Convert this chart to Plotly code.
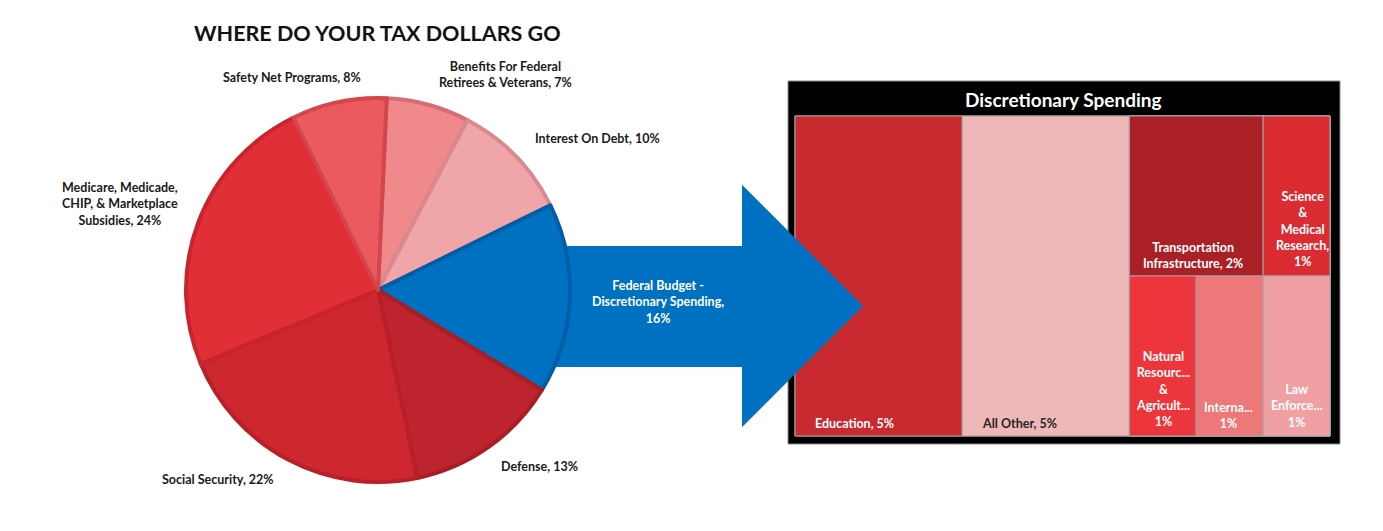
import plotly.graph_objects as go

W, H = 1383, 531

# ---------------- data ----------------
pie_labels = ["Benefits For Federal Retirees & Veterans", "Interest On Debt",
              "Federal Budget - Discretionary Spending", "Defense", "Social Security",
              "Medicare, Medicade, CHIP, & Marketplace Subsidies", "Safety Net Programs"]
pie_values = [7, 10, 16, 13, 22, 24, 8]
pie_label_fmt = ["Benefits For Federal<br>Retirees & Veterans, {v}%",
                 "Interest On Debt, {v}%",
                 "Federal Budget -<br>Discretionary Spending,<br>{v}%",
                 "Defense, {v}%",
                 "Social Security, {v}%",
                 "Medicare, Medicade,<br>CHIP, & Marketplace<br>Subsidies, {v}%",
                 "Safety Net Programs, {v}%"]
pie_colors = ["#EF898B", "#F0A6A8", "#0070C0", "#BE242D", "#CF2730", "#E02F36", "#EB5A5E"]
pie_line_colors = ["#D76C72", "#D88A90", "#005EA6", "#A91D26", "#B91F28", "#C9242C", "#D4464C"]

tm_labels = ["Education", "All Other", "Transportation Infrastructure",
             "Science & Medical Research", "Natural Resources & Agriculture",
             "International", "Law Enforcement"]
tm_values = [5, 5, 2, 1, 1, 1, 1]
tm_block = ["", "", "Top", "Top", "Bottom", "Bottom", "Bottom"]
tm_label_fmt = ["Education, {v}%", "All Other, {v}%",
                "Transportation<br>Infrastructure, {v}%",
                "Science<br>&<br>Medical<br>Research,<br>{v}%",
                "Natural<br>Resourc...<br>&<br>Agricult...<br>{v}%",
                "Interna...<br>{v}%", "Law<br>Enforce...<br>{v}%"]
tm_colors = ["#C82A30", "#EEB7B8", "#AB2026", "#DB2C32", "#EC363C", "#EE7779", "#F0A0A2"]
tm_text_colors = ["white", "#262626", "white", "white", "white", "white", "white"]


def px(x):
    return x / W


def py(y):
    return 1 - y / H


fig = go.Figure()

# ---------------- pie ----------------
cx, cy, r = 378, 290, 192
fig.add_trace(go.Pie(
    labels=pie_labels, values=pie_values, sort=False, direction="clockwise",
    rotation=2.6, textinfo="none", hoverinfo="label+percent",
    marker=dict(colors=pie_colors, line=dict(color=pie_line_colors, width=4)),
    domain=dict(x=[px(cx - r), px(cx + r)], y=[py(cy + r), py(cy - r)]),
    showlegend=False,
))

# ---------------- treemap ----------------
root = "Discretionary Spending"
ids = [root]
parents = [""]
vals = [0]
colors = ["#000000"]
ids += ["Education", "All Other", "Smaller"]
parents += [root, root, root]
vals += [tm_values[0], tm_values[1], 0]
colors += [tm_colors[0], tm_colors[1], "#000000"]
for blk in ["Top", "Bottom"]:
    ids.append("Smaller/" + blk)
    parents.append("Smaller")
    vals.append(0)
    colors.append("#000000")
    for lab, v, b, c in zip(tm_labels, tm_values, tm_block, tm_colors):
        if b == blk:
            ids.append(lab)
            parents.append("Smaller/" + blk)
            vals.append(v)
            colors.append(c)

tx0, tx1, ty0, ty1 = 795, 1330, 116, 436
fig.add_trace(go.Treemap(
    ids=ids, labels=ids, parents=parents, values=vals, branchvalues="remainder",
    sort=False, textinfo="none", hoverinfo="label+value",
    tiling=dict(packing="slice-dice", pad=0),
    marker=dict(colors=colors, line=dict(color="#A6A6A6", width=1),
                pad=dict(t=0, l=0, r=0, b=0)),
    pathbar=dict(visible=False),
    domain=dict(x=[px(tx0), px(tx1)], y=[py(ty1), py(ty0)]),
))

# ---------------- shapes ----------------
def poly(points):
    s = "M " + " L ".join(f"{px(x):.5f},{py(y):.5f}" for x, y in points) + " Z"
    return s

arrow_full = [(540, 246), (742, 246), (742, 185), (863, 306), (742, 427), (742, 367), (540, 367)]
arrow_top = [(574, 246), (742, 246), (742, 185), (863, 306), (742, 427), (742, 367), (574, 367)]
shapes = [
    dict(type="path", path=poly(arrow_full), xref="paper", yref="paper",
         fillcolor="#0070C0", line=dict(width=0), layer="below"),
    dict(type="rect", xref="paper", yref="paper", x0=px(788), x1=px(1340), y0=py(444), y1=py(81),
         fillcolor="#000000", line=dict(color="#8C8C8C", width=1), layer="below"),
    dict(type="path", path=poly(arrow_top), xref="paper", yref="paper",
         fillcolor="#0070C0", line=dict(width=0), layer="above"),
]

# ---------------- annotations ----------------
font_lab = dict(family="Lato", size=12.5, color="#1A1A1A", weight="bold")
pie_label_pos = [(505, 74), (597, 138), (658, 302), (539, 466), (218, 479), (120, 204), (292, 78)]
annotations = []
for fmt, v, (x, y) in zip(pie_label_fmt, pie_values, pie_label_pos):
    f = dict(font_lab)
    if "Discretionary" in fmt:
        f["color"] = "white"
    annotations.append(dict(text=fmt.format(v=v), x=px(x), y=py(y), xref="paper", yref="paper",
                            showarrow=False, xanchor="center", yanchor="middle", align="center",
                            font=f))

tm_label_pos = [(813, 423, "left"), (980, 423, "left"), (1193, 255, "center"), (1302, 229, "center"),
                (1163, 389, "center"), (1228, 415, "center"), (1296, 406, "center")]
for fmt, v, c, (x, y, anc) in zip(tm_label_fmt, tm_values, tm_text_colors, tm_label_pos):
    f = dict(font_lab)
    f["color"] = c
    annotations.append(dict(text=fmt.format(v=v), x=px(x), y=py(y), xref="paper", yref="paper",
                            showarrow=False, xanchor=anc, yanchor="middle", align="center",
                            font=f))

annotations.append(dict(text="WHERE DO YOUR TAX DOLLARS GO", x=px(378), y=py(33),
                        xref="paper", yref="paper", showarrow=False, xanchor="center", yanchor="middle",
                        font=dict(family="Lato", size=21.5, color="#111111", weight="bold")))
annotations.append(dict(text="Discretionary Spending", x=px(1063), y=py(100),
                        xref="paper", yref="paper", showarrow=False, xanchor="center", yanchor="middle",
                        font=dict(family="Lato", size=19, color="white", weight="bold")))

fig.update_layout(
    width=W, height=H, margin=dict(l=0, r=0, t=0, b=0),
    paper_bgcolor="white", plot_bgcolor="white",
    shapes=shapes, annotations=annotations, showlegend=False,
)

fig.write_html("out.html")
